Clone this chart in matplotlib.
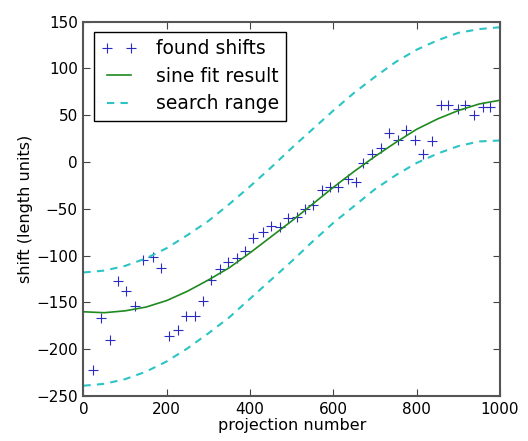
import matplotlib
matplotlib.use('Agg')
import matplotlib.pyplot as plt

# found shifts
proj = [24, 43, 64, 83, 103, 124, 144, 166, 186, 206, 228, 246, 268, 286, 306, 328,
        348, 368, 388, 408, 430, 450, 472, 490, 512, 532, 552, 572, 592, 612, 634, 654,
        672, 692, 714, 734, 756, 774, 796, 816, 836, 858, 876, 898, 916, 938, 958, 976]
shifts = [-222, -167, -190, -127, -138, -154, -105, -101, -113, -186, -180, -164, -164, -148, -126, -114,
          -107, -103, -95, -81, -75, -68, -69, -60, -59, -50, -46, -30, -27, -27, -18, -21,
          -1, 9, 15, 31, 24, 34, 23, 9, 22, 61, 61, 57, 61, 50, 59, 59]

# curves sampled every 50 projections
curve_x = [0, 50, 100, 150, 200, 250, 300, 350, 400, 450, 500,
           550, 600, 650, 700, 750, 800, 850, 900, 950, 1000]
fit = [-160, -161, -159, -155, -148, -138, -126, -113, -97, -80, -63,
       -45, -27, -10, 6, 21, 35, 46, 55, 62, 66]
upper = [-118, -116, -111, -103, -92, -78, -63, -45, -26, -6, 15,
         35, 55, 74, 91, 107, 120, 130, 138, 142, 144]
lower = [-239, -237, -232, -224, -213, -199, -183, -166, -146, -126, -106,
         -85, -65, -47, -29, -14, -1, 9, 17, 22, 23]

fig = plt.figure(figsize=(5.28, 4.41), dpi=100)
ax = fig.add_axes([0.158, 0.102, 0.789, 0.849])

ax.plot(proj, shifts, '+', color='#2b2bc0', markersize=7, markeredgewidth=0.8,
        label='found shifts')
ax.plot(curve_x, fit, '-', color='#1f8a1f', linewidth=1.2, label='sine fit result')
ax.plot(curve_x, upper, '--', color='#2cc4c4', linewidth=1.5, dashes=(3.5, 3),
        label='search range')
ax.plot(curve_x, lower, '--', color='#2cc4c4', linewidth=1.5, dashes=(3.5, 3))

ax.set_xlim(0, 1000)
ax.set_ylim(-250, 150)
ax.set_xticks(range(0, 1001, 200))
ax.set_yticks(range(-250, 151, 50))
ax.tick_params(direction='in', top=True, right=True, length=5, width=0.8,
               labelsize=11, pad=4, color='#444444')
for s in ax.spines.values():
    s.set_color('#555555')
    s.set_linewidth(1.5)

ax.set_xlabel('projection number', fontsize=11.5, labelpad=1)
ax.set_ylabel('shift (length units)', fontsize=11.5, labelpad=2)

leg = ax.legend(loc='upper left', numpoints=2, fontsize=13.5, fancybox=False,
                framealpha=1, edgecolor='black', handlelength=1.9,
                handletextpad=1.0, labelspacing=0.45, borderaxespad=0.55)
leg.get_frame().set_linewidth(1.0)

fig.savefig('out.png', dpi=100)
